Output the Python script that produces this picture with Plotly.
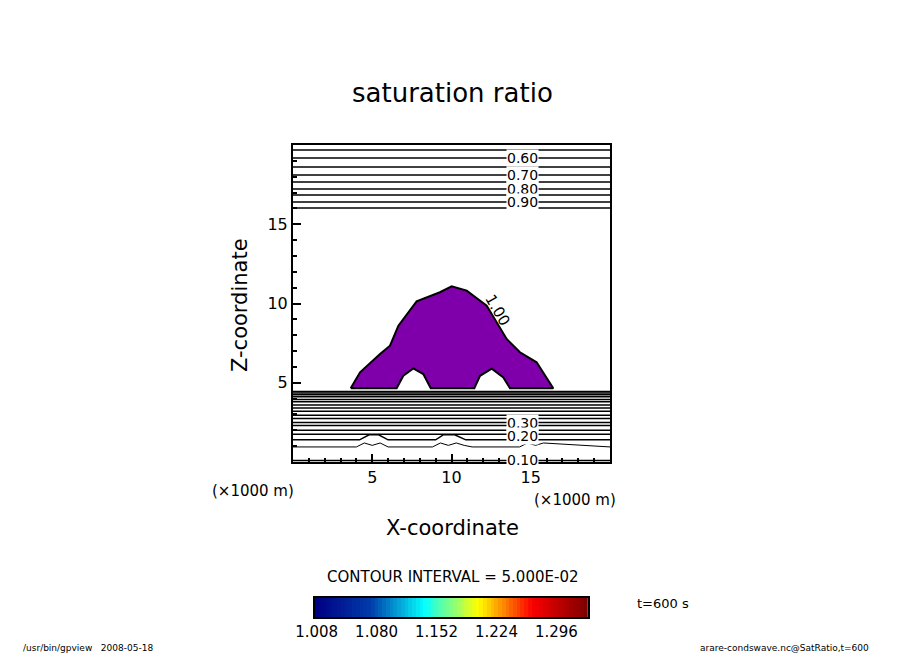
import numpy as np
import plotly.graph_objects as go

# horizontal contour lines (level, height in km)
upper_levels = [0.55, 0.60, 0.65, 0.70, 0.75, 0.80, 0.85, 0.90, 0.95]
upper_z = [19.68, 19.18, 18.61, 18.10, 17.67, 17.22, 16.85, 16.40, 16.03]
lower_levels = [0.95, 0.90, 0.85, 0.80, 0.75, 0.70, 0.65, 0.60, 0.55, 0.50, 0.45, 0.40, 0.35, 0.30, 0.25, 0.10]
lower_z = [4.45, 4.35, 4.25, 4.12, 3.95, 3.8, 3.6, 3.4, 3.2, 2.95, 2.75, 2.5, 2.3, 2.0, 1.75, 0.1]
label_levels = ["0.60", "0.70", "0.80", "0.90"]
label_z = [19.18, 18.10, 17.22, 16.40]
low_labels = ["0.30", "0.20", "0.10"]
low_label_z = [2.45, 1.65, 0.1]

# wavy contours 0.20 and 0.15
wave20_x = [0, 4.2, 4.8, 5.4, 6.0, 9.0, 9.5, 10.2, 10.9, 14.5, 15.0, 20]
wave20_z = [1.40, 1.40, 1.72, 1.72, 1.40, 1.40, 1.72, 1.72, 1.40, 1.40, 1.40, 1.40]
wave15_x = [0, 4.0, 4.5, 5.0, 5.5, 6.0, 8.8, 9.3, 9.8, 10.3, 10.8, 11.3, 14.3, 14.8, 15.3, 15.8, 20]
wave15_z = [0.95, 0.95, 1.20, 1.05, 1.20, 0.95, 0.95, 1.20, 1.05, 1.20, 1.05, 0.95, 0.95, 1.20, 1.05, 1.20, 0.95]

# supersaturated region outline (S > 1)
cloud_x = [3.64, 4.23, 5.49, 6.12, 6.65, 7.28, 7.80, 9.27, 10.01, 10.96, 12.22, 13.48, 14.32, 15.37, 16.42,
           13.69, 13.27, 12.54, 11.80, 11.44, 8.69, 8.22, 7.59, 6.96, 6.54, 3.64]
cloud_z = [4.65, 5.66, 6.81, 7.34, 8.60, 9.44, 10.14, 10.71, 11.08, 10.81, 9.86, 7.76, 6.92, 6.29, 4.65,
           4.65, 5.34, 5.89, 5.44, 4.65, 4.65, 5.55, 5.91, 5.44, 4.65, 4.65]

cbar_ticks = [1.008, 1.080, 1.152, 1.224, 1.296]
cbar_vals = np.arange(1.008, 1.332, 0.0045)

W, H, OFF = 904, 654, 8  # page body margin offset


def px_x(x):
    return (x - OFF) / W


def px_y(y):
    return 1 - (y - OFF) / H


fig = go.Figure()
black = dict(color="black", width=1.5)
for z in upper_z + lower_z:
    fig.add_trace(go.Scatter(x=[0, 20], y=[z, z], mode="lines", line=black, hoverinfo="skip"))
fig.add_trace(go.Scatter(x=wave20_x, y=wave20_z, mode="lines", line=black, hoverinfo="skip"))
fig.add_trace(go.Scatter(x=wave15_x, y=wave15_z, mode="lines", line=dict(color="black", width=1), hoverinfo="skip"))
fig.add_trace(go.Scatter(x=cloud_x, y=cloud_z, mode="lines", fill="toself", fillcolor="#7f00aa",
                         line=dict(color="black", width=2), hoverinfo="skip"))

font = dict(family="DejaVu Sans", color="black")
for t, z in zip(label_levels + low_labels, label_z + low_label_z):
    fig.add_annotation(x=14.5, y=z, text=t, showarrow=False, bgcolor="white", font=dict(size=14, **font),
                       borderpad=0)
fig.add_annotation(x=12.9, y=9.6, text="1.00", showarrow=False, textangle=60, font=dict(size=15, **font))

# colorbar strip
fig.add_trace(go.Heatmap(x=cbar_vals, y=[0], z=[cbar_vals], colorscale="Jet", showscale=False,
                         xaxis="x2", yaxis="y2", hoverinfo="skip"))

axis_common = dict(showline=True, linecolor="black", linewidth=2, mirror=True, ticks="inside",
                   ticklen=8, tickwidth=1.5, tickcolor="black", showgrid=False, zeroline=False,
                   automargin=False, tickfont=dict(size=16, **font),
                   minor=dict(ticks="inside", ticklen=4, tickcolor="black", dtick=1))
fig.update_layout(
    width=W, height=H, autosize=False, margin=dict(l=0, r=0, t=0, b=0, pad=0),
    paper_bgcolor="white", plot_bgcolor="white", showlegend=False,
    xaxis=dict(domain=[px_x(293), px_x(610)], range=[0, 20], tickvals=[5, 10, 15], **axis_common),
    yaxis=dict(domain=[px_y(462), px_y(145)], range=[0, 20], tickvals=[5, 10, 15], **axis_common),
    xaxis2=dict(domain=[px_x(315), px_x(588)], anchor="y2", range=[1.006, 1.334], tickvals=cbar_ticks,
                ticktext=["1.008", "1.080", "1.152", "1.224", "1.296"], ticks="", showline=True,
                automargin=False, linecolor="black", linewidth=2, mirror=True, tickfont=dict(size=15, **font)),
    yaxis2=dict(domain=[px_y(617), px_y(598)], anchor="x2", showticklabels=False, ticks="", automargin=False,
                showline=True, linecolor="black", linewidth=2, mirror=True, range=[-0.5, 0.5]),
)


def text(x, y, s, size, **kw):
    fig.add_annotation(xref="paper", yref="paper", x=px_x(x), y=px_y(y), text=s, showarrow=False,
                       xanchor="center", yanchor="middle", font=dict(size=size, **font), **kw)


text(452, 93, "saturation ratio", 26)
text(240, 305, "Z-coordinate", 21, textangle=-90)
text(452, 528, "X-coordinate", 21)
text(253, 491, "(×1000 m)", 15)
text(575, 500, "(×1000 m)", 15)
text(452, 577, "CONTOUR INTERVAL = 5.000E-02", 15)
text(663, 603, "t=600 s", 13)
text(88, 648, "/usr/bin/gpview   2008-05-18", 9)
text(784, 648, "arare-condswave.nc@SatRatio,t=600", 9)

fig.write_html("out.html")
